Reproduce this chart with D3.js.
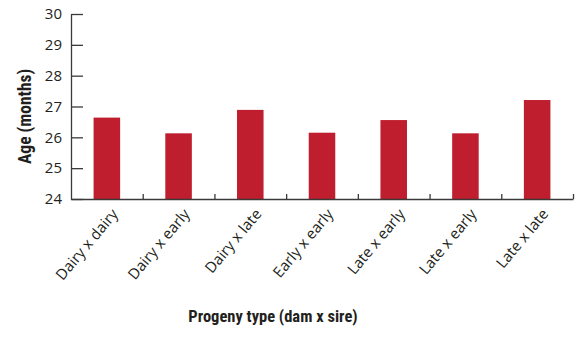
<!DOCTYPE html>
<html>
<head>
<meta charset="utf-8">
<script src="https://cdn.jsdelivr.net/npm/d3@7"></script>
<style>
  body { margin: 0; background: #fff; }
  svg { display: block; }
</style>
</head>
<body>
<svg id="chart" width="580" height="339"></svg>
<script>
const categories = ['Dairy x dairy', 'Dairy x early', 'Dairy x late', 'Early x early', 'Late x early', 'Late x early', 'Late x late'];
const ages = [26.64, 26.13, 26.89, 26.15, 26.56, 26.13, 27.21];
const yTicks = [24, 25, 26, 27, 28, 29, 30];

const barColor = '#be1e2d';
const axisColor = '#3a3a3a';
const textColor = '#231f20';

const plotLeft = 71, plotRight = 573, plotTop = 14, plotBottom = 199;
const svg = d3.select('#chart');

// use index keys since two categories share the same label
const x = d3.scaleBand()
  .domain(d3.range(categories.length))
  .range([plotLeft, plotRight])
  .paddingInner(0.63)
  .paddingOuter(0.315);

const y = d3.scaleLinear().domain([24, 30]).range([plotBottom, plotTop]);

// bars
svg.append('g')
  .selectAll('rect')
  .data(ages)
  .enter().append('rect')
  .attr('x', (d, i) => x(i))
  .attr('y', (d) => y(d))
  .attr('width', x.bandwidth())
  .attr('height', (d) => y(24) - y(d))
  .style('fill', barColor);

// y axis, ticks pointing inward
const yAxis = svg.append('g')
  .attr('transform', `translate(${plotLeft},0)`)
  .call(d3.axisLeft(y).tickValues(yTicks).tickFormat(d3.format('d'))
    .tickSizeInner(-12).tickSizeOuter(0).tickPadding(9));
yAxis.select('.domain').style('stroke', axisColor).style('stroke-width', 1.3);
yAxis.selectAll('.tick line').style('stroke', axisColor).style('stroke-width', 1.3);
yAxis.selectAll('.tick text')
  .style('font-family', '"Open Sans", sans-serif')
  .style('font-size', '15px')
  .style('fill', textColor);

// x axis with small ticks at category boundaries
const xb = d3.scaleLinear().domain([0, categories.length]).range([plotLeft, plotRight]);
const xAxis = svg.append('g')
  .attr('transform', `translate(0,${plotBottom})`)
  .call(d3.axisBottom(xb).tickValues(d3.range(1, categories.length + 1)).tickSizeInner(-5).tickSizeOuter(0).tickFormat(''));
xAxis.select('.domain').style('stroke', axisColor).style('stroke-width', 1.3);
xAxis.selectAll('.tick line').style('stroke', axisColor).style('stroke-width', 1.3);

// rotated category labels
svg.append('g')
  .selectAll('text')
  .data(categories)
  .enter().append('text')
  .attr('transform', (d, i) => `translate(${x(i) + x.bandwidth() / 2 + 8},${plotBottom + 12}) rotate(-50)`)
  .attr('text-anchor', 'end')
  .attr('dy', '0.35em')
  .style('font-family', '"Open Sans", sans-serif')
  .style('font-size', '15px')
  .style('fill', textColor)
  .text((d) => d);

// axis titles
svg.append('text')
  .attr('transform', `translate(31,${(plotTop + plotBottom) / 2 + 10}) rotate(-90)`)
  .attr('text-anchor', 'middle')
  .style('font-family', '"Liberation Sans Narrow", "Roboto Condensed", sans-serif')
  .style('font-weight', 'bold')
  .style('font-size', '17.5px')
  .style('fill', textColor)
  .text('Age (months)');

svg.append('text')
  .attr('x', 273)
  .attr('y', 322)
  .attr('text-anchor', 'middle')
  .style('font-family', '"Liberation Sans Narrow", "Roboto Condensed", sans-serif')
  .style('font-weight', 'bold')
  .style('font-size', '16.5px')
  .style('fill', textColor)
  .text('Progeny type (dam x sire)');
</script>
</body>
</html>
